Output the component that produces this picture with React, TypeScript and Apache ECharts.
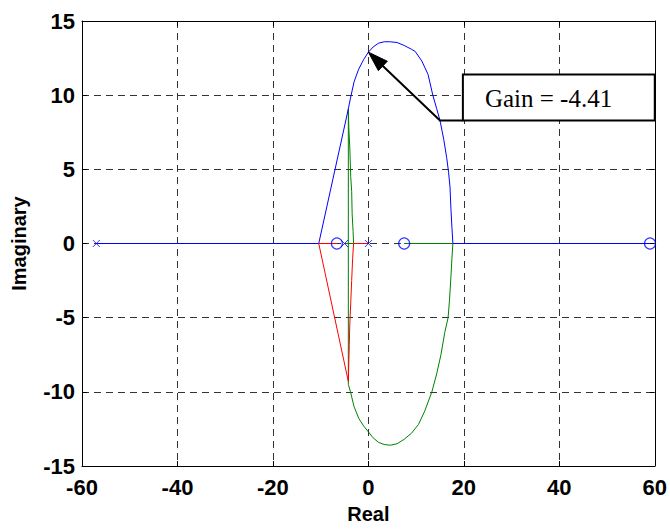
import React, { useEffect, useRef } from "react";
import * as echarts from "echarts";

const xTicks = { min: -60, max: 60, interval: 20 };
const yTicks = { min: -15, max: 15, interval: 5 };

const bluePath: [number, number][] = [
  [-57, 0], [-10.4, 0], [-4.2, 9.07], [-3.75, 9.8], [-3, 10.9], [-2.1, 11.7], [-1, 12.4], [0, 12.9],
  [1, 13.25], [2.1, 13.5], [3.3, 13.6], [4.6, 13.6], [6, 13.55], [7.5, 13.35], [9, 13.1], [9.8, 12.95],
  [11.2, 12.3], [12.5, 11.4], [13.5, 10], [14.3, 9.1], [15, 8.3], [15.8, 7], [16.4, 5.8], [16.8, 4.8],
  [17.1, 3.8], [17.3, 2.3], [17.5, 1.1], [17.7, 0], [59, 0],
];

const greenPath: [number, number][] = [
  [-5, 0], [-3.1, 0], [-3.2, 0.8], [-3.4, 2], [-3.5, 3.5], [-3.7, 4.5], [-3.9, 6.5], [-4.1, 7.8],
  [-4.2, 9.07], [-4.2, -9.5], [-3.75, -10], [-3, -11], [-2, -11.8], [-1, -12.3], [0, -12.7], [1, -13.1],
  [2.1, -13.4], [3.3, -13.55], [4.6, -13.6], [6, -13.5], [7.5, -13.2], [9, -12.8], [10.5, -12.2],
  [11.8, -11.3], [13.3, -10], [14.3, -8.8], [15.2, -7.5], [16, -6], [16.7, -5], [17, -3.8],
  [17.3, -2.2], [17.5, -1], [17.7, 0], [7.5, 0],
];

const redPath: [number, number][] = [
  [0, 0], [-3.1, 0], [-3.3, -1], [-3.5, -2.5], [-3.7, -4], [-3.9, -5.5], [-4.0, -6.8], [-4.1, -8],
  [-4.2, -9.3], [-10.4, 0], [-6.6, 0],
];

const poles: number[] = [-57, -5, 0];
const zeros: number[] = [-6.6, 7.5, 59];

const annotationText = "Gain = -4.41";
const arrowTip: [number, number] = [0, 12.9];
const arrowElbow: [number, number] = [15, 8.3];
const boxCorner1: [number, number] = [19.8, 11.4];
const boxCorner2: [number, number] = [60, 8.3];

const FONT = "'Liberation Sans', Arial, sans-serif";

export default function App() {
  const ref = useRef<HTMLDivElement>(null);
  useEffect(() => {
    if (!ref.current) return;
    const chart = echarts.init(ref.current, null, { renderer: "svg", width: 670, height: 529 });
    const labelStyle = { color: "#000", fontWeight: "bold" as const, fontSize: 22, fontFamily: FONT };
    const axisLine = { show: true, onZero: false, lineStyle: { color: "#000", width: 1 } };
    const splitLine = { show: true, lineStyle: { color: "#333", width: 1, type: [7, 5] as any } };
    const tick = { show: true, inside: true, length: 5, lineStyle: { color: "#000" } };
    chart.setOption({
      animation: false,
      backgroundColor: "#fff",
      grid: { left: 82, width: 576, top: 21, height: 453, containLabel: false },
      xAxis: [
        {
          type: "value", ...xTicks, position: "bottom",
          axisLine, axisTick: tick, splitLine,
          axisLabel: { ...labelStyle, margin: 10 },
          name: "Real", nameLocation: "middle", nameGap: 38,
          nameTextStyle: { ...labelStyle, fontSize: 20 },
        },
        {
          type: "value", ...xTicks, position: "top",
          axisLine, axisTick: tick, splitLine: { show: false }, axisLabel: { show: false },
        },
      ],
      yAxis: [
        {
          type: "value", ...yTicks, position: "left",
          axisLine, axisTick: tick, splitLine,
          axisLabel: { ...labelStyle, margin: 7 },
          name: "Imaginary", nameLocation: "middle", nameGap: 53,
          nameTextStyle: { ...labelStyle, fontSize: 20 },
        },
        {
          type: "value", ...yTicks, position: "right",
          axisLine, axisTick: tick, splitLine: { show: false }, axisLabel: { show: false },
        },
      ],
      series: [
        { type: "line", data: bluePath, showSymbol: false, lineStyle: { color: "#0000ff", width: 1 }, z: 3 },
        { type: "line", data: greenPath, showSymbol: false, lineStyle: { color: "#008000", width: 1 }, z: 2 },
        { type: "line", data: redPath, showSymbol: false, lineStyle: { color: "#ff0000", width: 1 }, z: 4 },
        {
          type: "scatter", data: poles.map((p) => [p, 0]),
          symbol: "path://M0,0L10,10M10,0L0,10", symbolSize: 7,
          itemStyle: { color: "none", borderColor: "#0000ff", borderWidth: 1 }, z: 5,
        },
        {
          type: "scatter", data: zeros.map((z) => [z, 0]),
          symbol: "circle", symbolSize: 11,
          itemStyle: { color: "none", borderColor: "#0000ff", borderWidth: 1.2 }, z: 5,
        },
      ],
    });

    const px = (p: [number, number]) => chart.convertToPixel({ xAxisIndex: 0, yAxisIndex: 0 }, p) as number[];
    const tip = px(arrowTip);
    const elbow = px(arrowElbow);
    const c1 = px(boxCorner1);
    const c2 = px(boxCorner2);
    const dx = elbow[0] - tip[0];
    const dy = elbow[1] - tip[1];
    const len = Math.hypot(dx, dy);
    const ux = dx / len, uy = dy / len;
    const headLen = 20, headHalf = 6.5;
    const bx = tip[0] + ux * headLen, by = tip[1] + uy * headLen;
    const boxX = Math.min(c1[0], c2[0]), boxY = Math.min(c1[1], c2[1]);
    const boxW = Math.abs(c2[0] - c1[0]), boxH = Math.abs(c2[1] - c1[1]);
    chart.setOption({
      graphic: [
        {
          type: "rect", shape: { x: boxX, y: boxY, width: boxW, height: boxH },
          style: { fill: "#fff", stroke: "#000", lineWidth: 2 }, z: 10,
        },
        {
          type: "text", x: boxX + 22, y: boxY + boxH / 2 + 1,
          style: { text: annotationText, font: "25px 'Liberation Serif', 'Times New Roman', serif", fill: "#000", verticalAlign: "middle", textAlign: "left" },
          z: 11,
        },
        {
          type: "polyline", shape: { points: [[boxX, elbow[1]], [elbow[0], elbow[1]], [bx, by]] },
          style: { stroke: "#000", lineWidth: 2, fill: null }, z: 10,
        },
        {
          type: "polygon",
          shape: { points: [[tip[0], tip[1]], [bx - uy * headHalf, by + ux * headHalf], [bx + uy * headHalf, by - ux * headHalf]] },
          style: { fill: "#000", stroke: "#000" }, z: 10,
        },
      ],
    });
    return () => chart.dispose();
  }, []);
  return <div ref={ref} style={{ width: 670, height: 529, position: "absolute", left: 0, top: 0 }} />;
}
